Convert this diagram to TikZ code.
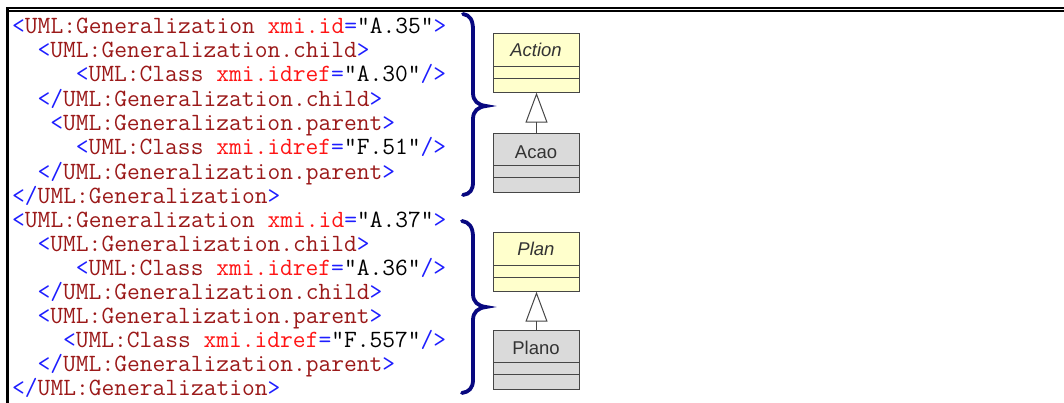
\documentclass[tikz,border=0pt]{standalone}
\usepackage{fontspec}
\usetikzlibrary{arrows.meta}
\newfontfamily\umlfont{Liberation Sans}
\definecolor{tagblue}{RGB}{30,30,255}
\definecolor{elemred}{RGB}{155,25,25}
\definecolor{attrred}{RGB}{255,20,20}
\definecolor{bracenavy}{RGB}{8,8,128}
\definecolor{classyellow}{RGB}{255,255,204}
\definecolor{classgray}{RGB}{218,218,218}
\definecolor{classline}{RGB}{70,70,70}
\newcommand\tb[1]{\textcolor{tagblue}{#1}}
\newcommand\te[1]{\textcolor{elemred}{#1}}
\newcommand\ta[1]{\textcolor{attrred}{#1}}
\begin{document}
\begin{tikzpicture}[x=1pt,y=-1pt,
  codeline/.style={anchor=base west,inner sep=0pt,font=\ttfamily\fontsize{24.8}{26}\selectfont},
  classbox/.style={draw=classline,line width=1pt,minimum width=86pt,minimum height=59pt,inner sep=0pt,anchor=north west},
  classname/.style={inner sep=0pt,font=\umlfont\fontsize{18.5}{20}\selectfont,text=black!80},
  compline/.style={draw=classline,line width=1pt},
  gen/.style={draw=classline,line width=1pt,-{Triangle[open,length=30pt,width=22pt,line width=1pt]}},
  bracepath/.style={draw=bracenavy,line width=3.8pt,line cap=round}]
\useasboundingbox (0,0) rectangle (1064,403);
\fill[white] (0,0) rectangle (1064,403);

% frame: thick outer top and left rules, thin inner top rule
\fill[black] (6,6.6) rectangle (1064,9);
\fill[black] (9,10.4) rectangle (1064,11.7);
\fill[black] (6,6.6) rectangle (9,403);

% first generalization
\node[codeline] (l1) at (12,33.3) {\tb{<}\te{UML:Generalization} \ta{xmi.id}\tb{=}"A.35"\tb{>}};
\node[codeline] (l2) at (37.44,57.6) {\tb{<}\te{UML:Generalization.child}\tb{>}};
\node[codeline] (l3) at (75.6,81.9) {\tb{<}\te{UML:Class} \ta{xmi.idref}\tb{=}"A.30"\tb{/>}};
\node[codeline] (l4) at (37.44,106.2) {\tb{</}\te{UML:Generalization.child}\tb{>}};
\node[codeline] (l5) at (50.16,130.5) {\tb{<}\te{UML:Generalization.parent}\tb{>}};
\node[codeline] (l6) at (75.6,154.8) {\tb{<}\te{UML:Class} \ta{xmi.idref}\tb{=}"F.51"\tb{/>}};
\node[codeline] (l7) at (37.44,179.1) {\tb{</}\te{UML:Generalization.parent}\tb{>}};
\node[codeline] (l8) at (12,203.4) {\tb{</}\te{UML:Generalization}\tb{>}};

% second generalization
\node[codeline] (m1) at (12,227) {\tb{<}\te{UML:Generalization} \ta{xmi.id}\tb{=}"A.37"\tb{>}};
\node[codeline] (m2) at (37.44,251.05) {\tb{<}\te{UML:Generalization.child}\tb{>}};
\node[codeline] (m3) at (75.6,275.1) {\tb{<}\te{UML:Class} \ta{xmi.idref}\tb{=}"A.36"\tb{/>}};
\node[codeline] (m4) at (37.44,299.15) {\tb{</}\te{UML:Generalization.child}\tb{>}};
\node[codeline] (m5) at (37.44,323.2) {\tb{<}\te{UML:Generalization.parent}\tb{>}};
\node[codeline] (m6) at (62.88,347.25) {\tb{<}\te{UML:Class} \ta{xmi.idref}\tb{=}"F.557"\tb{/>}};
\node[codeline] (m7) at (37.44,371.3) {\tb{</}\te{UML:Generalization.parent}\tb{>}};
\node[codeline] (m8) at (12,395.35) {\tb{</}\te{UML:Generalization}\tb{>}};

% curly braces
\draw[bracepath] (463,14) .. controls (470,15) and (473,20) .. (473,30) -- (473,93)
  .. controls (473,101) and (478,105) .. (486,106)
  .. controls (478,107) and (473,111) .. (473,119) -- (473,182)
  .. controls (473,190) and (470,194) .. (463,195);
\draw[bracepath] (462,221) .. controls (469,222) and (473,227) .. (473,237) -- (473,294)
  .. controls (473,302) and (478,306) .. (486,307)
  .. controls (478,308) and (473,312) .. (473,320) -- (473,380)
  .. controls (473,388) and (469,392) .. (462,393);

% class Action / Acao
\node[classbox,fill=classyellow] (actionbox) at (493,32.7) {};
\draw[compline] (493,66.5) -- (579,66.5) (493,78.3) -- (579,78.3);
\node[classname,font=\umlfont\itshape\fontsize{18.5}{20}\selectfont] (action) at (536,50) {Action};
\node[classbox,fill=classgray] (acaobox) at (493,133.3) {};
\draw[compline] (493,165.7) -- (579,165.7) (493,177.7) -- (579,177.7);
\node[classname] (acao) at (536,152.5) {Acao};
\draw[gen] (acaobox.north) -- (actionbox.south);

% class Plan / Plano
\node[classbox,fill=classyellow] (planbox) at (493,231.7) {};
\draw[compline] (493,265.3) -- (579,265.3) (493,277.3) -- (579,277.3);
\node[classname,font=\umlfont\itshape\fontsize{18.5}{20}\selectfont] (plan) at (536,249) {Plan};
\node[classbox,fill=classgray] (planobox) at (493,330.3) {};
\draw[compline] (493,362.7) -- (579,362.7) (493,374) -- (579,374);
\node[classname] (plano) at (536,348) {Plano};
\draw[gen] (planobox.north) -- (planbox.south);
\end{tikzpicture}
\end{document}
